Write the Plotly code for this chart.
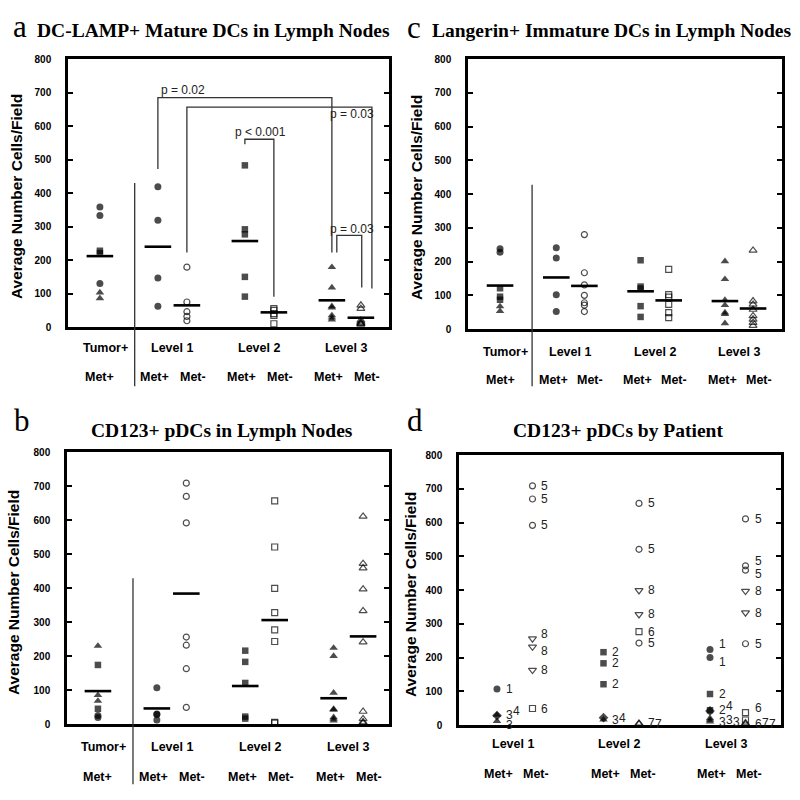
import plotly.graph_objects as go

W, H = 800, 800

# ---------------- data ----------------
level_names = ["Level 1", "Level 2", "Level 3"]

# Panel a: DC-LAMP+ mature DCs in lymph nodes
a_tumor_pos = [359, 333, 228, 221, 130, 103, 86]
a_tumor_kind = ["circle", "circle", "square", "square", "circle", "triangle-up", "triangle-up"]
a_l1_pos = [419, 319, 147, 62]
a_l1_neg = [179, 75, 46, 32, 19]
a_l2_pos = [483, 292, 277, 150, 91]
a_l2_neg = [55, 50, 40, 35, 10]
a_l3_pos = [179, 118, 62, 58, 35, 28, 22]
a_l3_neg = [65, 55, 20, 15, 12, 10, 8]
a_means = [212, 240, 65, 257, 44, 80, 28]

# Panel c: Langerin+ immature DCs in lymph nodes
c_tumor_pos = [238, 228, 121, 96, 87, 67, 53]
c_tumor_kind = ["circle", "circle", "square", "square", "square", "triangle-up", "triangle-up"]
c_l1_pos = [241, 211, 102, 52]
c_l1_neg = [280, 167, 131, 100, 78, 71, 52]
c_l2_pos = [204, 126, 120, 68, 36]
c_l2_neg = [177, 102, 95, 73, 49, 34]
c_l3_pos = [201, 148, 86, 71, 49, 44, 17]
c_l3_neg = [233, 83, 73, 58, 39, 29, 19, 10]
c_means = [129, 153, 128, 112, 85, 83, 61]

# Panels b & d: CD123+ pDCs (values with patient numbers)
b_tumor_pos = [230, 174, 85, 68, 45, 25, 19]
b_tumor_kind = ["triangle-up", "square", "triangle-up", "triangle-up", "square", "circle", "circle"]
pdc_l1_pos = [107, 30, 28, 12]
pdc_l1_pos_pt = [1, 3, 4, 3]
pdc_l1_neg = [709, 670, 592, 256, 232, 163, 49]
pdc_l1_neg_pt = [5, 5, 5, 8, 8, 8, 6]
pdc_l2_pos = [216, 183, 121, 16, 22]
pdc_l2_pos_pt = [2, 2, 2, 3, 4]
pdc_l2_neg = [657, 521, 399, 328, 277, 243, 5, 3]
pdc_l2_neg_pt = [5, 5, 8, 8, 6, 5, 7, 7]
pdc_l3_pos = [224, 200, 92, 44, 42, 20, 15, 10]
pdc_l3_pos_pt = [1, 1, 2, 2, 4, 3, 3, 3]
pdc_l3_neg = [611, 472, 459, 397, 333, 241, 37, 15, 6, 3]
pdc_l3_neg_pt = [5, 5, 5, 8, 8, 5, 6, 6, 7, 7]
b_means = [97, 46, 384, 112, 306, 76, 258]

# p-value brackets for panel a: (x left, y left end, y top, x right, y right end, text, text x, text y)
p_x0 = [2, 3, 5, 8.17]
p_y0 = [472, 223, 546, 223]
p_ytop = [685, 657, 561, 274]
p_x1 = [8, 9.38, 6, 9.03]
p_y1 = [223, 115, 91, 118]
p_text = ["p = 0.02", "p = 0.03", "p < 0.001", "p = 0.03"]
p_tx = [2.85, 8.68, 5.55, 8.68]
p_ty = [707, 637, 584, 294]

# ---------------- layout helpers ----------------
SANS = "Liberation Sans"
SERIF = "Liberation Serif"

panels = {
    "a": dict(ax=1, L=68, R=389, T=54, B=326, xr=[-1.1, 9.97]),
    "c": dict(ax=2, L=468, R=782, T=54, B=328, xr=[-1.14, 10.03]),
    "b": dict(ax=3, L=67, R=389, T=453, B=729, xr=[-1.05, 9.88]),
    "d": dict(ax=4, L=459, R=781, T=456, B=730, xr=[-1.07, 8.0]),
}

def py(p):
    return 1 - p / H

fig = go.Figure()
annotations = []
shapes = []

def axnames(n):
    return ("x" if n == 1 else f"x{n}"), ("y" if n == 1 else f"y{n}")

for key, p in panels.items():
    n = p["ax"]
    xk = "xaxis" if n == 1 else f"xaxis{n}"
    yk = "yaxis" if n == 1 else f"yaxis{n}"
    xa, ya = axnames(n)
    fig.layout[xk] = dict(domain=[p["L"] / W, p["R"] / W], range=p["xr"], anchor=ya,
                          showline=True, linewidth=2.5, linecolor="black", mirror=True,
                          showgrid=False, zeroline=False, showticklabels=False, ticks="",
                          fixedrange=True)
    fig.layout[yk] = dict(domain=[py(p["B"]), py(p["T"])], range=[0, 800], anchor=xa,
                          dtick=100, tick0=0, ticks="inside", ticklen=5, tickwidth=1.5,
                          tickcolor="black", showline=True, linewidth=2.5, linecolor="black",
                          mirror="ticks", showgrid=False, zeroline=False,
                          tickfont=dict(family=SANS, size=10, color="black", weight="bold"),
                          ticklabelstandoff=12, fixedrange=True)

FILLED_SIZE = {"circle": 7, "square": 6.5, "triangle-up": 7.5, "diamond": 7.5}
OPEN_SIZE = {"circle-open": 6, "square-open": 6, "triangle-up-open": 7, "triangle-down-open": 7}

def msize(s):
    return FILLED_SIZE.get(s, OPEN_SIZE.get(s, 7))

def add_markers(n, xs, ys, syms):
    xa, ya = axnames(n)
    fig.add_trace(go.Scatter(
        x=xs, y=ys, mode="markers", xaxis=xa, yaxis=ya, cliponaxis=False, showlegend=False,
        marker=dict(symbol=syms, size=[msize(s) for s in syms], color="black",
                    line=dict(width=[1.2 if "open" in s else 0 for s in syms], color="black"))))

def ann(**kw):
    base = dict(showarrow=False, xanchor="center", yanchor="middle")
    base.update(kw)
    annotations.append(base)
    return base

LEVEL_SYM = ["circle", "square", "triangle-up"]
GROUP_X = [0, 2, 3, 5, 6, 8, 9]
BOLD = dict(family=SANS, size=12.5, color="black", weight="bold")

def group_panel(n, tumor, tumor_kind, pos_lists, neg_lists, means, rows, sep):
    add_markers(n, [0] * len(tumor), tumor, tumor_kind)
    for i, (pv, nv) in enumerate(zip(pos_lists, neg_lists)):
        xp, xn = GROUP_X[1 + 2 * i], GROUP_X[2 + 2 * i]
        add_markers(n, [xp] * len(pv), pv, [LEVEL_SYM[i]] * len(pv))
        add_markers(n, [xn] * len(nv), nv, [LEVEL_SYM[i] + "-open"] * len(nv))
    xa, ya = axnames(n)
    fig.add_trace(go.Scatter(
        x=GROUP_X, y=means, mode="markers", xaxis=xa, yaxis=ya, showlegend=False, cliponaxis=False,
        marker=dict(symbol="line-ew", size=19, line=dict(width=2.6, color="black"))))
    sx, stop, sbot = sep
    shapes.append(dict(type="line", xref=xa, yref="paper", x0=sx, x1=sx,
                       y0=py(sbot), y1=py(stop), line=dict(color="#333", width=1.3)))
    r1, r2 = rows
    ann(text="Tumor+", x=0.2, y=py(r1), xref=xa, yref="paper", font=BOLD)
    ann(text="Met+", x=0, y=py(r2), xref=xa, yref="paper", font=BOLD)
    for i, name in enumerate(level_names):
        xp, xn = GROUP_X[1 + 2 * i], GROUP_X[2 + 2 * i]
        ann(text=name, x=(xp + xn) / 2, y=py(r1), xref=xa, yref="paper", font=BOLD)
        ann(text="Met+", x=xp - 0.1, y=py(r2), xref=xa, yref="paper", font=BOLD)
        ann(text="Met-", x=xn + 0.2, y=py(r2), xref=xa, yref="paper", font=BOLD)

def ypix_of(panel, v):
    p = panels[panel]
    return p["B"] - (p["B"] - p["T"]) * v / 800

group_panel(1, a_tumor_pos, a_tumor_kind, [a_l1_pos, a_l2_pos, a_l3_pos],
            [a_l1_neg, a_l2_neg, a_l3_neg], a_means, (347, 377), (1.2, ypix_of("a", 430), 386))
group_panel(2, c_tumor_pos, c_tumor_kind, [c_l1_pos, c_l2_pos, c_l3_pos],
            [c_l1_neg, c_l2_neg, c_l3_neg], c_means, (351, 380), (1.14, ypix_of("c", 428), 386))
group_panel(3, b_tumor_pos, b_tumor_kind, [pdc_l1_pos, pdc_l2_pos, pdc_l3_pos],
            [pdc_l1_neg, pdc_l2_neg, pdc_l3_neg], b_means, (752, 783), (1.19, ypix_of("b", 429), 790))

# p-value brackets (panel a)
for x0, y0, yt, x1, y1, t, tx, ty in zip(p_x0, p_y0, p_ytop, p_x1, p_y1, p_text, p_tx, p_ty):
    shapes.append(dict(type="path", xref="x", yref="y",
                       path=f"M {x0},{y0} L {x0},{yt} L {x1},{yt} L {x1},{y1}",
                       line=dict(color="#333", width=1.3)))
    ann(text=t, x=tx, y=ty, xref="x", yref="y", font=dict(family=SANS, size=12, color="#222"))

# panel d: by patient
PATIENT_SYM = {1: "circle", 2: "square", 3: "triangle-up", 4: "diamond",
               5: "circle-open", 6: "square-open", 7: "triangle-up-open", 8: "triangle-down-open"}
d_vals = [pdc_l1_pos, pdc_l1_neg, pdc_l2_pos, pdc_l2_neg, pdc_l3_pos, pdc_l3_neg]
d_pts = [pdc_l1_pos_pt, pdc_l1_neg_pt, pdc_l2_pos_pt, pdc_l2_neg_pt, pdc_l3_pos_pt, pdc_l3_neg_pt]
D_X = [0, 1, 3, 4, 6, 7]
for vals, pts, x in zip(d_vals, d_pts, D_X):
    syms = [PATIENT_SYM[q] for q in pts]
    fig.add_trace(go.Scatter(
        x=[x] * len(vals), y=vals, mode="markers", xaxis="x4", yaxis="y4",
        cliponaxis=False, showlegend=False,
        marker=dict(symbol=syms, size=[msize(s) for s in syms], color="black",
                    line=dict(width=[1.2 if "open" in s else 0 for s in syms], color="black"))))
    lvl = 0
    prev = None
    for j, (v, q) in enumerate(zip(vals, pts)):
        ysh = 0
        if j > 0 and abs(v - vals[j - 1]) < 10:
            lvl += 1
        else:
            lvl = 0
            if j > 0 and abs(v - vals[j - 1]) < 25:
                # spread nearly coincident labels vertically
                prev["yshift"] = prev.get("yshift", 0) + 5
                ysh = -4
        prev = ann(text=str(q), x=x, y=v, xref="x4", yref="y4", xanchor="left",
                   xshift=7 + 7 * lvl, yshift=ysh,
                   font=dict(family=SANS, size=12, color="#222"))

for i, name in enumerate(level_names):
    xp, xn = D_X[2 * i], D_X[2 * i + 1]
    ann(text=name, x=(xp + xn) / 2 - 0.05, y=py(749), xref="x4", yref="paper", font=BOLD)
    ann(text="Met+", x=xp + 0.05, y=py(780), xref="x4", yref="paper", font=BOLD)
    ann(text="Met-", x=xn + 0.1, y=py(780), xref="x4", yref="paper", font=BOLD)

# y-axis titles
ytitle = "Average Number Cells/Field"
for xc, yc in [(16, 194), (416, 195), (13, 596), (410, 597)]:
    ann(text=ytitle, x=xc / W, y=py(yc), xref="paper", yref="paper", textangle=-90,
        font=dict(family=SANS, size=15.5, color="black", weight="bold"))

# panel letters and titles
title_font = dict(family=SERIF, size=19.5, color="black", weight="bold")
letter_font = dict(family=SERIF, size=31, color="black")
for letter, lx, ly in [("a", 11, 21), ("c", 405, 22), ("b", 12, 421), ("d", 405, 421)]:
    ann(text=letter, x=lx / W, y=py(ly), xref="paper", yref="paper", xanchor="left",
        font=letter_font)
for t, tx, ty, anc in [("DC-LAMP+ Mature DCs in Lymph Nodes", 35, 25, "left"),
                       ("Langerin+ Immature DCs in Lymph Nodes", 430, 25, "left"),
                       ("CD123+ pDCs in Lymph Nodes", 222, 431, "center"),
                       ("CD123+ pDCs by Patient", 618, 431, "center")]:
    ann(text=t, x=tx / W, y=py(ty), xref="paper", yref="paper", xanchor=anc, font=title_font)

fig.update_layout(width=W, height=H, margin=dict(l=0, r=0, t=0, b=0),
                  paper_bgcolor="white", plot_bgcolor="white",
                  annotations=annotations, shapes=shapes, showlegend=False)

fig.write_html("out.html", config={"displayModeBar": False},
               post_script="document.body.style.margin='0';")
